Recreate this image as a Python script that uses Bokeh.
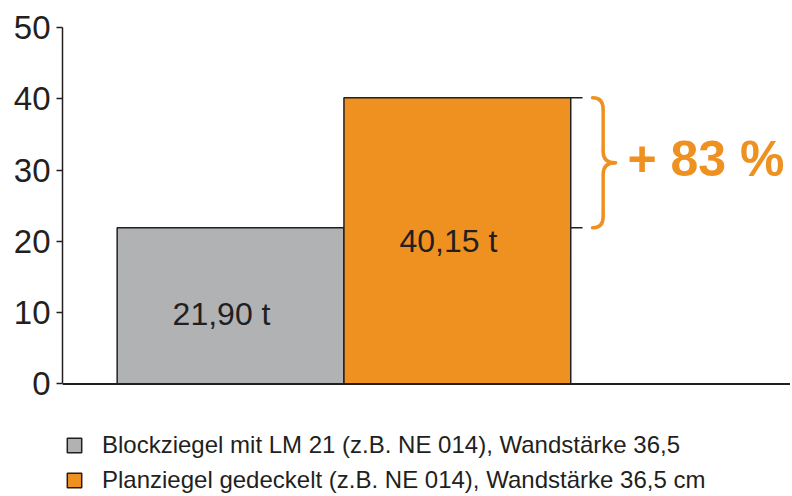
from bokeh.plotting import figure
from bokeh.models import Range1d, Legend, LegendItem, ColumnDataSource, FixedTicker, Span
from bokeh.core.properties import value
from bokeh.embed import file_html
from bokeh.resources import INLINE

# ---- data ----
categories = ["Blockziegel mit LM 21 (z.B. NE 014), Wandstärke 36,5",
              "Planziegel gedeckelt (z.B. NE 014), Wandstärke 36,5 cm"]
values = [21.90, 40.15]
value_labels = ["21,90 t", "40,15 t"]
increase_label = "+ 83 %"
y_ticks = [0, 10, 20, 30, 40, 50]

# ---- styles ----
colors = ["#b1b2b4", "#ee9121"]
ink = "#231f20"
orange = "#ee9121"
FONT = "Liberation Sans"
label_dy = [8, 0]

x_pos = [1, 2]
bar_w = 1.0

p = figure(width=790, height=494, output_backend="svg", toolbar_location=None,
           x_range=Range1d(0.259, 3.469), y_range=Range1d(-15.5, 50),
           min_border_left=62, min_border_right=0, min_border_top=27, min_border_bottom=0)
p.outline_line_color = None
p.grid.visible = False
p.background_fill_color = "white"
p.xaxis.visible = False

src = ColumnDataSource(dict(x=x_pos, top=values, color=colors, cat=categories,
                            lab=value_labels,
                            ly=[v * 0.5 for v in values], dy=label_dy))

bars = p.vbar(x="x", top="top", width=bar_w, bottom=0, fill_color="color",
              line_color=ink, line_width=1.5, source=src)

# baseline (x axis line)
p.add_layout(Span(location=0, dimension="width", line_color=ink, line_width=2))

# value labels
p.text(x="x", y="ly", text="lab", source=src, text_align="center", text_baseline="middle",
       text_font=value(FONT), text_font_size="32px", text_color=ink,
       x_offset=-9, y_offset="dy")

# small marker lines at brace ends
right_edge = x_pos[1] + bar_w / 2
p.segment(x0=[right_edge, right_edge], y0=values, x1=[right_edge + 0.052] * 2, y1=values,
          line_color=ink, line_width=1.5)

# curly brace
top_v, bot_v = values[1], values[0]
mid = (top_v + bot_v) / 2
xb0 = right_edge + 0.096
xv = right_edge + 0.143
xt = right_edge + 0.197
r = 1.6
qx0 = [xb0, xv, xv, xb0]
qy0 = [top_v, mid + r, mid - r, bot_v]
qx1 = [xv, xt, xt, xv]
qy1 = [top_v - r, mid, mid, bot_v + r]
qcx = [xv, xv, xv, xv]
qcy = [top_v, mid, mid, bot_v]
p.quadratic(x0=qx0, y0=qy0, x1=qx1, y1=qy1, cx=qcx, cy=qcy,
            line_color=orange, line_width=3.5, line_cap="round")
p.segment(x0=[xv, xv], y0=[top_v - r, bot_v + r], x1=[xv, xv], y1=[mid + r, mid - r],
          line_color=orange, line_width=3.5)

p.text(x=[right_edge + 0.25], y=[mid], text=[increase_label], text_align="left",
       text_baseline="alphabetic", text_font=value(FONT), text_font_size="50px",
       text_font_style="bold", text_color=orange, y_offset=-4)

# y axis
p.yaxis.bounds = (0, 50)
p.yaxis.ticker = FixedTicker(ticks=y_ticks)
p.yaxis.major_tick_out = 6
p.yaxis.major_tick_in = 0
p.yaxis.minor_tick_line_color = None
p.yaxis.axis_line_color = ink
p.yaxis.axis_line_width = 1.5
p.yaxis.major_tick_line_color = ink
p.yaxis.major_tick_line_width = 1.5
p.yaxis.major_label_text_font = FONT
p.yaxis.major_label_text_font_size = "33px"
p.yaxis.major_label_text_color = ink
p.yaxis.major_label_standoff = 6

# legend (one item per bar)
items = [LegendItem(label=categories[i], renderers=[bars], index=i) for i in range(2)]
legend = Legend(items=items, location=(3, 0), orientation="vertical",
                border_line_color=None, background_fill_alpha=0,
                padding=0, margin=0, spacing=7, glyph_width=18, glyph_height=18,
                label_standoff=19, label_text_font=FONT, label_text_font_size="24px",
                label_text_color=ink, label_height=18)
p.add_layout(legend, "center")

open("out.html", "w").write(file_html(p, INLINE))
